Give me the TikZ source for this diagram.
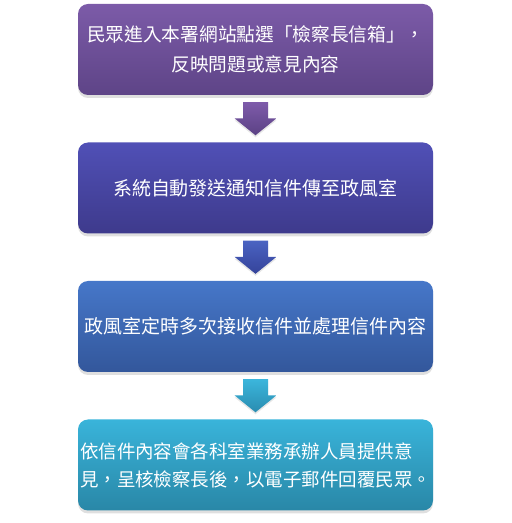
\documentclass[tikz,border=0pt]{standalone}
\usepackage{fontspec}
\setmainfont{Noto Sans CJK TC}
\usetikzlibrary{calc,shadows}

\definecolor{visitTop}{HTML}{7C5BA8}
\definecolor{visitBot}{HTML}{5E4487}
\definecolor{notifyTop}{HTML}{5050B6}
\definecolor{notifyBot}{HTML}{3E3A8C}
\definecolor{handleTop}{HTML}{4677C9}
\definecolor{handleBot}{HTML}{33579B}
\definecolor{replyTop}{HTML}{39B4DA}
\definecolor{replyBot}{HTML}{2987A7}
\definecolor{arrAtop}{HTML}{7E5BAA}
\definecolor{arrAbot}{HTML}{5B4184}
\definecolor{arrBtop}{HTML}{4A63C2}
\definecolor{arrBbot}{HTML}{35439A}
\definecolor{arrCtop}{HTML}{3BB6DC}
\definecolor{arrCbot}{HTML}{2A8CB0}

\newcommand{\blockarrow}[4]{%
  \shade[top color=#3, bottom color=#4, flowshadow]
    let \p1=($(#1.south)+(0,-7)$), \p2=($(#2.north)+(0,7)$) in
    (\x1-12.5,\y1) -- (\x1+12.5,\y1) -- (\x1+12.5,\y2+17) -- (\x1+21,\y2+17)
    -- (\x1,\y2) -- (\x1-21,\y2+17) -- (\x1-12.5,\y2+17) -- cycle;}

\begin{document}
\begin{tikzpicture}[x=1pt, y=1pt,
  box/.style={rectangle, rounded corners=10pt, minimum width=355pt, minimum height=91pt,
    text=white, align=center, font=\fontsize{19}{29}\selectfont,
    drop shadow={shadow xshift=0pt, shadow yshift=-3pt, opacity=0.25}},
  flowshadow/.style={drop shadow={shadow xshift=0pt, shadow yshift=-2pt, opacity=0.2}}
]
  \useasboundingbox (0,0) rectangle (512,523);
  \node[box, top color=visitTop, bottom color=visitBot, font=\fontsize{18.7}{30}\selectfont] (visit) at (255.5,473.5)
    {民眾進入本署網站點選「檢察長信箱」，\\反映問題或意見內容};
  \node[box, top color=notifyTop, bottom color=notifyBot] (notify) at (255.5,335)
    {系統自動發送通知信件傳至政風室};
  \node[box, top color=handleTop, bottom color=handleBot] (handle) at (255.5,196.5)
    {政風室定時多次接收信件並處理信件內容};
  \node[box, top color=replyTop, bottom color=replyBot, font=\fontsize{18.5}{28}\selectfont,
    align=left, text width=351pt, inner xsep=2pt] (reply) at (255.5,58)
    {依信件內容會各科室業務承辦人員提供意\\見，呈核檢察長後，以電子郵件回覆民眾。};
  \blockarrow{visit}{notify}{arrAtop}{arrAbot}
  \blockarrow{notify}{handle}{arrBtop}{arrBbot}
  \blockarrow{handle}{reply}{arrCtop}{arrCbot}
\end{tikzpicture}
\end{document}
